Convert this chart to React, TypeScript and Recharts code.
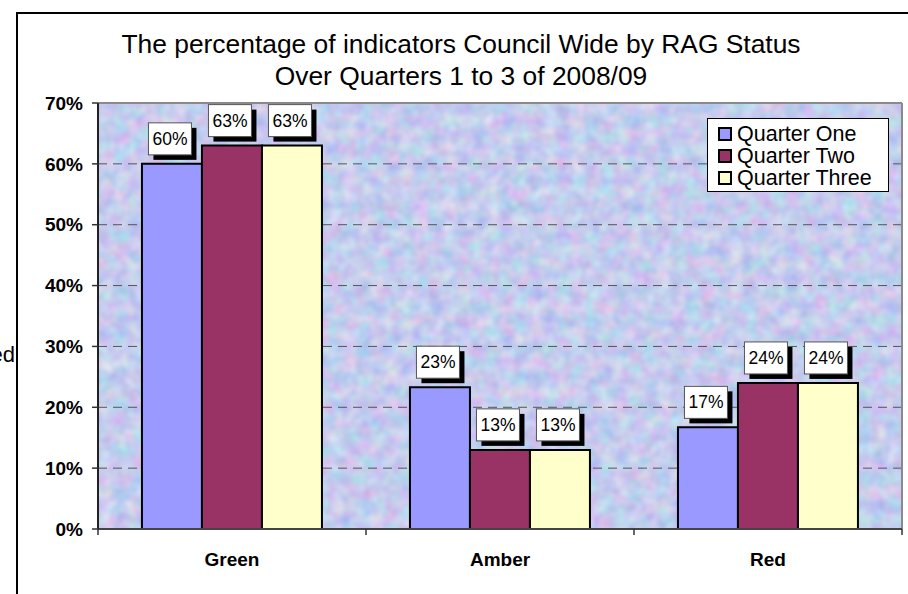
import React from 'react';
import { BarChart, Bar, XAxis, YAxis, CartesianGrid, LabelList, Legend } from 'recharts';

const categories = ['Green', 'Amber', 'Red'];
const quarterOne = [60, 23.3, 16.7];
const quarterTwo = [63, 13, 24];
const quarterThree = [63, 13, 24];
const seriesNames = ['Quarter One', 'Quarter Two', 'Quarter Three'];
const seriesKeys = ['q1', 'q2', 'q3'];
const seriesColors = ['#9999ff', '#993366', '#ffffcc'];
const yTicks = [0, 10, 20, 30, 40, 50, 60, 70];
const titleLines = ['The percentage of indicators Council Wide by RAG Status', 'Over Quarters 1 to 3 of 2008/09'];

const data = categories.map((cat, i) => ({
  cat,
  q1: quarterOne[i],
  q2: quarterTwo[i],
  q3: quarterThree[i],
}));

const FONT = 'Arial, "Liberation Sans", Helvetica, sans-serif';

const ValueLabel = (props: any) => {
  const { x, y, width, value } = props;
  if (x == null || y == null) return null;
  const bw = 43;
  const bh = 32;
  const cx = Number(x) + Number(width) / 2 - 2;
  const bottom = Number(y) - 9;
  const left = cx - bw / 2;
  const top = bottom - bh;
  return (
    <g>
      <rect x={left + 5} y={top + 5} width={bw} height={bh} fill="#000" />
      <rect x={left} y={top} width={bw} height={bh} fill="#fff" stroke="#555" strokeWidth={1} />
      <text x={cx} y={top + bh / 2 + 6} textAnchor="middle" fontSize={17.5} fontFamily={FONT} fill="#000">
        {`${Math.round(Number(value))}%`}
      </text>
    </g>
  );
};

const CatTick = (props: any) => {
  const { x, y, payload, index, visibleTicksCount } = props;
  const off = payload && typeof payload.offset === 'number' ? payload.offset : 0;
  const axisY = y - 24;
  return (
    <g>
      {off > 0 && <line x1={x - off} x2={x - off} y1={axisY} y2={axisY + 6} stroke="#333" strokeWidth={1.5} />}
      {off > 0 && (index === (visibleTicksCount ?? 3) - 1) && (
        <line x1={x + off} x2={x + off} y1={axisY} y2={axisY + 6} stroke="#333" strokeWidth={1.5} />
      )}
      <text x={x} y={y} dy="0.71em" textAnchor="middle" fontSize={19} fontWeight="bold" fontFamily={FONT} fill="#000">
        {payload.value}
      </text>
    </g>
  );
};

const LegendBox = () => (
  <div
    style={{
      width: 182,
      height: 74,
      background: '#fff',
      border: '1px solid #000',
      boxSizing: 'border-box',
      padding: '4px 0 0 10px',
      fontFamily: FONT,
      fontSize: 21.5,
      lineHeight: '22px',
    }}
  >
    {seriesNames.map((n, i) => (
      <div key={n} style={{ display: 'flex', alignItems: 'center', whiteSpace: 'nowrap', height: 22 }}>
        <span
          style={{
            display: 'inline-block',
            width: 10,
            height: 10,
            background: seriesColors[i],
            border: '2px solid #000',
            marginRight: 5,
          }}
        />
        <span>{n}</span>
      </div>
    ))}
  </div>
);

export default function App() {
  return (
    <div style={{ position: 'absolute', left: 0, top: 0, width: 908, height: 594, overflow: 'hidden', background: '#fff' }}>
      <div
        style={{
          position: 'absolute',
          left: 16,
          top: 12,
          width: 1200,
          height: 1200,
          borderLeft: '2px solid #000',
          borderTop: '2px solid #000',
          boxSizing: 'border-box',
        }}
      />
      <div
        style={{
          position: 'absolute',
          left: -40,
          width: 55,
          top: 341,
          textAlign: 'right',
          fontFamily: FONT,
          fontSize: 22,
          lineHeight: '28px',
          color: '#000',
        }}
      >
        ed
      </div>
      <div
        style={{
          position: 'absolute',
          left: 0,
          top: 0,
          width: 908,
          height: 594,
        }}
      >
        <BarChart
          width={908}
          height={594}
          data={data}
          margin={{ top: 103, right: 6, bottom: 0, left: 0 }}
          barCategoryGap="16.4%"
          barGap={0}
        >
          <defs>
            <filter id="noiseF" x="0" y="0" width="100%" height="100%" colorInterpolationFilters="sRGB">
              <feTurbulence type="fractalNoise" baseFrequency="0.07" numOctaves={2} seed={11} />
              <feColorMatrix
                type="matrix"
                values="0.32 0 0 0 0.61  0 0.26 0 0 0.67  0 0 0.1 0 0.88  0 0 0 0 1"
              />
            </filter>
            <pattern id="bgTex" patternUnits="userSpaceOnUse" x="0" y="0" width="908" height="594">
              <rect x="0" y="0" width="908" height="594" fill="#c6cdf0" />
              <rect x="0" y="0" width="908" height="594" filter="url(#noiseF)" />
            </pattern>
          </defs>
          <CartesianGrid
            fill="url(#bgTex)"
            fillOpacity={1}
            vertical={false}
            stroke="#555"
            strokeDasharray="9 6"
            strokeWidth={1}
          />
          <CartesianGrid
            fill="none"
            stroke="#8a8a8a"
            strokeWidth={2}
            horizontalCoordinatesGenerator={(p: any) => (p && p.offset ? [p.offset.top] : [])}
            verticalCoordinatesGenerator={(p: any) => (p && p.offset ? [p.offset.left + p.offset.width] : [])}
          />
          <XAxis
            dataKey="cat"
            height={65}
            tickLine={false}
            tickSize={6}
            tickMargin={18}
            axisLine={{ stroke: '#444', strokeWidth: 2 }}
            tick={<CatTick />}
            interval={0}
          />
          <YAxis
            type="number"
            domain={[0, 70]}
            ticks={yTicks}
            interval={0}
            width={98}
            tickFormatter={(v: number) => `${v}%`}
            tickSize={6}
            tickMargin={9}
            axisLine={{ stroke: '#222', strokeWidth: 2 }}
            tickLine={{ stroke: '#333', strokeWidth: 1.5 }}
            tick={{ fontSize: 19, fontWeight: 'bold', fill: '#000', fontFamily: FONT }}
          />
          <Legend
            layout="horizontal"
            verticalAlign="middle"
            align="center"
            content={() => <LegendBox />}
            wrapperStyle={{ position: 'absolute', top: 118, left: 707, width: 182, height: 74 }}
          />
          {seriesKeys.map((k, i) => (
            <Bar
              key={k}
              dataKey={k}
              name={seriesNames[i]}
              fill={seriesColors[i]}
              stroke="#000"
              strokeWidth={2}
              isAnimationActive={false}
            >
              <LabelList dataKey={k} content={<ValueLabel />} />
            </Bar>
          ))}
        </BarChart>
      </div>
      <div
        style={{
          position: 'absolute',
          left: 0,
          width: 922,
          top: 28,
          textAlign: 'center',
          fontFamily: FONT,
          fontSize: 26.4,
          lineHeight: '32px',
          color: '#000',
        }}
      >
        {titleLines.map((t) => (
          <div key={t}>{t}</div>
        ))}
      </div>
    </div>
  );
}
